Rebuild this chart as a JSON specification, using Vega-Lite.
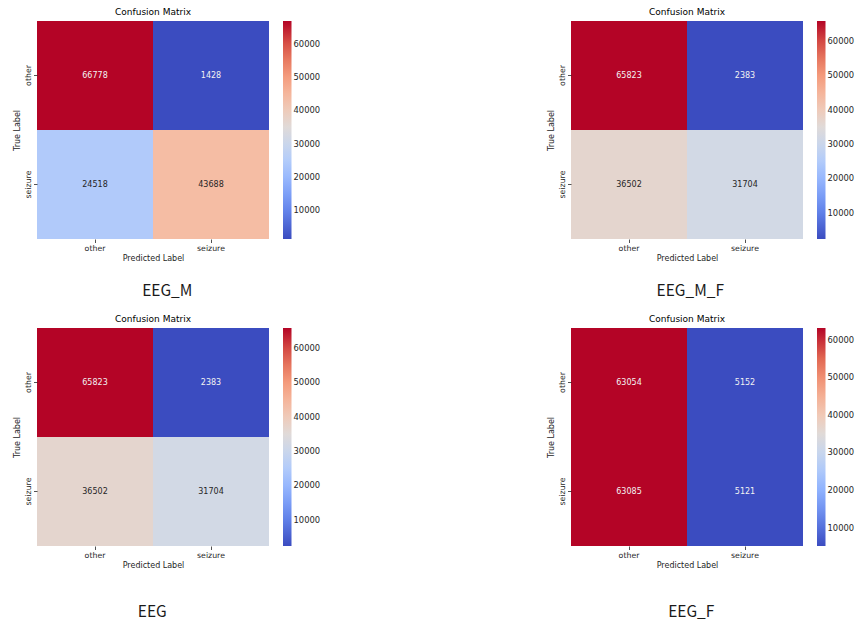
{
  "$schema": "https://vega.github.io/schema/vega-lite/v6.json",
  "padding": {"left": 13, "top": 8, "right": 0, "bottom": 0},
  "background": "white",
  "datasets": {
    "cm": [
      {"model": "EEG_M", "true": "other", "pred": "other", "count": 66778},
      {"model": "EEG_M", "true": "other", "pred": "seizure", "count": 1428},
      {"model": "EEG_M", "true": "seizure", "pred": "other", "count": 24518},
      {"model": "EEG_M", "true": "seizure", "pred": "seizure", "count": 43688},
      {"model": "EEG_M_F", "true": "other", "pred": "other", "count": 65823},
      {"model": "EEG_M_F", "true": "other", "pred": "seizure", "count": 2383},
      {"model": "EEG_M_F", "true": "seizure", "pred": "other", "count": 36502},
      {"model": "EEG_M_F", "true": "seizure", "pred": "seizure", "count": 31704},
      {"model": "EEG", "true": "other", "pred": "other", "count": 65823},
      {"model": "EEG", "true": "other", "pred": "seizure", "count": 2383},
      {"model": "EEG", "true": "seizure", "pred": "other", "count": 36502},
      {"model": "EEG", "true": "seizure", "pred": "seizure", "count": 31704},
      {"model": "EEG_F", "true": "other", "pred": "other", "count": 63054},
      {"model": "EEG_F", "true": "other", "pred": "seizure", "count": 5152},
      {"model": "EEG_F", "true": "seizure", "pred": "other", "count": 63085},
      {"model": "EEG_F", "true": "seizure", "pred": "seizure", "count": 5121}
    ]
  },
  "config": {
    "view": {"stroke": null},
    "font": "DejaVu Sans",
    "title": {"font": "DejaVu Sans", "fontSize": 9, "fontWeight": "normal", "color": "#000000", "offset": 4},
    "axis": {
      "domain": false, "grid": false, "ticks": true, "tickSize": 3.5, "tickWidth": 0.8, "tickColor": "#262626",
      "labelFont": "DejaVu Sans", "labelFontSize": 7.8, "labelColor": "#262626", "labelPadding": 1.5,
      "titleFont": "DejaVu Sans", "titleFontSize": 8, "titleFontWeight": "normal", "titleColor": "#262626", "titlePadding": 2.5
    },
    "legend": {
      "padding": 0, "offset": 14, "gradientLength": 218, "gradientThickness": 8.5, "gradientStrokeWidth": 0,
      "labelFont": "DejaVu Sans", "labelFontSize": 8.4, "labelColor": "#262626", "labelOffset": 8
    }
  },
  "resolve": {"scale": {"color": "independent"}, "legend": {"color": "independent"}},
  "spacing": 15,
  "vconcat": [
    {
      "spacing": 226,
      "resolve": {"scale": {"color": "independent"}, "legend": {"color": "independent"}},
      "hconcat": [
        {
          "title": {"text": "EEG_M", "orient": "bottom", "anchor": "middle", "font": "Noto Sans CJK SC", "fontSize": 15.5, "fontWeight": "normal", "color": "#1a1a1a", "offset": 22, "dx": 0},
          "vconcat": [
            {
              "width": 232, "height": 218,
              "title": "Confusion Matrix",
              "data": {"name": "cm"},
              "transform": [{"filter": "datum.model === 'EEG_M'"}],
              "encoding": {
                "x": {"field": "pred", "type": "nominal", "sort": ["other", "seizure"], "title": "Predicted Label", "scale": {"paddingInner": 0, "paddingOuter": 0}, "axis": {"labelAngle": 0}},
                "y": {"field": "true", "type": "nominal", "sort": ["other", "seizure"], "title": "True Label", "scale": {"paddingInner": 0, "paddingOuter": 0}, "axis": {"labelAngle": 270, "labelAlign": "center", "labelBaseline": "bottom"}}
              },
              "layer": [
                {
                  "mark": {"type": "rect"},
                  "encoding": {
                    "color": {"field": "count", "type": "quantitative",
                      "scale": {"domain": [1428, 9596.75, 17765.5, 25934.25, 34103, 42271.75, 50440.5, 58609.25, 66778],
                        "range": ["#3b4cc0", "#6282ea", "#8db0fe", "#b8d0f9", "#dddddd", "#f5c4ad", "#f49a7b", "#de604d", "#b40426"], "interpolate": "rgb"},
                      "legend": {"title": null, "values": [10000, 20000, 30000, 40000, 50000, 60000], "format": "d"}}
                  }
                },
                {
                  "mark": {"type": "text", "fontSize": 8, "font": "DejaVu Sans"},
                  "encoding": {
                    "text": {"field": "count", "type": "quantitative", "format": "d"},
                    "color": {"condition": {"test": "datum.count > 15000 && datum.count < 55000", "value": "#262626"}, "value": "#f2f2f2"}
                  }
                }
              ]
            }
          ]
        },
        {
          "title": {"text": "EEG_M_F", "orient": "bottom", "anchor": "middle", "font": "Noto Sans CJK SC", "fontSize": 15.5, "fontWeight": "normal", "color": "#1a1a1a", "offset": 22, "dx": -11},
          "vconcat": [
            {
              "width": 232, "height": 218,
              "title": "Confusion Matrix",
              "data": {"name": "cm"},
              "transform": [{"filter": "datum.model === 'EEG_M_F'"}],
              "encoding": {
                "x": {"field": "pred", "type": "nominal", "sort": ["other", "seizure"], "title": "Predicted Label", "scale": {"paddingInner": 0, "paddingOuter": 0}, "axis": {"labelAngle": 0}},
                "y": {"field": "true", "type": "nominal", "sort": ["other", "seizure"], "title": "True Label", "scale": {"paddingInner": 0, "paddingOuter": 0}, "axis": {"labelAngle": 270, "labelAlign": "center", "labelBaseline": "bottom"}}
              },
              "layer": [
                {
                  "mark": {"type": "rect"},
                  "encoding": {
                    "color": {"field": "count", "type": "quantitative",
                      "scale": {"domain": [2383, 10313, 18243, 26173, 34103, 42033, 49963, 57893, 65823],
                        "range": ["#3b4cc0", "#6282ea", "#8db0fe", "#b8d0f9", "#dddddd", "#f5c4ad", "#f49a7b", "#de604d", "#b40426"], "interpolate": "rgb"},
                      "legend": {"title": null, "values": [10000, 20000, 30000, 40000, 50000, 60000], "format": "d"}}
                  }
                },
                {
                  "mark": {"type": "text", "fontSize": 8, "font": "DejaVu Sans"},
                  "encoding": {
                    "text": {"field": "count", "type": "quantitative", "format": "d"},
                    "color": {"condition": {"test": "datum.count > 15000 && datum.count < 55000", "value": "#262626"}, "value": "#f2f2f2"}
                  }
                }
              ]
            }
          ]
        }
      ]
    },
    {
      "spacing": 226,
      "resolve": {"scale": {"color": "independent"}, "legend": {"color": "independent"}},
      "hconcat": [
        {
          "title": {"text": "EEG", "orient": "bottom", "anchor": "middle", "font": "Noto Sans CJK SC", "fontSize": 15.5, "fontWeight": "normal", "color": "#1a1a1a", "offset": 36, "dx": -15},
          "vconcat": [
            {
              "width": 232, "height": 218,
              "title": "Confusion Matrix",
              "data": {"name": "cm"},
              "transform": [{"filter": "datum.model === 'EEG'"}],
              "encoding": {
                "x": {"field": "pred", "type": "nominal", "sort": ["other", "seizure"], "title": "Predicted Label", "scale": {"paddingInner": 0, "paddingOuter": 0}, "axis": {"labelAngle": 0}},
                "y": {"field": "true", "type": "nominal", "sort": ["other", "seizure"], "title": "True Label", "scale": {"paddingInner": 0, "paddingOuter": 0}, "axis": {"labelAngle": 270, "labelAlign": "center", "labelBaseline": "bottom"}}
              },
              "layer": [
                {
                  "mark": {"type": "rect"},
                  "encoding": {
                    "color": {"field": "count", "type": "quantitative",
                      "scale": {"domain": [2383, 10313, 18243, 26173, 34103, 42033, 49963, 57893, 65823],
                        "range": ["#3b4cc0", "#6282ea", "#8db0fe", "#b8d0f9", "#dddddd", "#f5c4ad", "#f49a7b", "#de604d", "#b40426"], "interpolate": "rgb"},
                      "legend": {"title": null, "values": [10000, 20000, 30000, 40000, 50000, 60000], "format": "d"}}
                  }
                },
                {
                  "mark": {"type": "text", "fontSize": 8, "font": "DejaVu Sans"},
                  "encoding": {
                    "text": {"field": "count", "type": "quantitative", "format": "d"},
                    "color": {"condition": {"test": "datum.count > 15000 && datum.count < 55000", "value": "#262626"}, "value": "#f2f2f2"}
                  }
                }
              ]
            }
          ]
        },
        {
          "title": {"text": "EEG_F", "orient": "bottom", "anchor": "middle", "font": "Noto Sans CJK SC", "fontSize": 15.5, "fontWeight": "normal", "color": "#1a1a1a", "offset": 36, "dx": -10},
          "vconcat": [
            {
              "width": 232, "height": 218,
              "title": "Confusion Matrix",
              "data": {"name": "cm"},
              "transform": [{"filter": "datum.model === 'EEG_F'"}],
              "encoding": {
                "x": {"field": "pred", "type": "nominal", "sort": ["other", "seizure"], "title": "Predicted Label", "scale": {"paddingInner": 0, "paddingOuter": 0}, "axis": {"labelAngle": 0}},
                "y": {"field": "true", "type": "nominal", "sort": ["other", "seizure"], "title": "True Label", "scale": {"paddingInner": 0, "paddingOuter": 0}, "axis": {"labelAngle": 270, "labelAlign": "center", "labelBaseline": "bottom"}}
              },
              "layer": [
                {
                  "mark": {"type": "rect"},
                  "encoding": {
                    "color": {"field": "count", "type": "quantitative",
                      "scale": {"domain": [5121, 12366.5, 19612, 26857.5, 34103, 41348.5, 48594, 55839.5, 63085],
                        "range": ["#3b4cc0", "#6282ea", "#8db0fe", "#b8d0f9", "#dddddd", "#f5c4ad", "#f49a7b", "#de604d", "#b40426"], "interpolate": "rgb"},
                      "legend": {"title": null, "values": [10000, 20000, 30000, 40000, 50000, 60000], "format": "d"}}
                  }
                },
                {
                  "mark": {"type": "text", "fontSize": 8, "font": "DejaVu Sans"},
                  "encoding": {
                    "text": {"field": "count", "type": "quantitative", "format": "d"},
                    "color": {"condition": {"test": "datum.count > 15000 && datum.count < 55000", "value": "#262626"}, "value": "#f2f2f2"}
                  }
                }
              ]
            }
          ]
        }
      ]
    }
  ]
}
